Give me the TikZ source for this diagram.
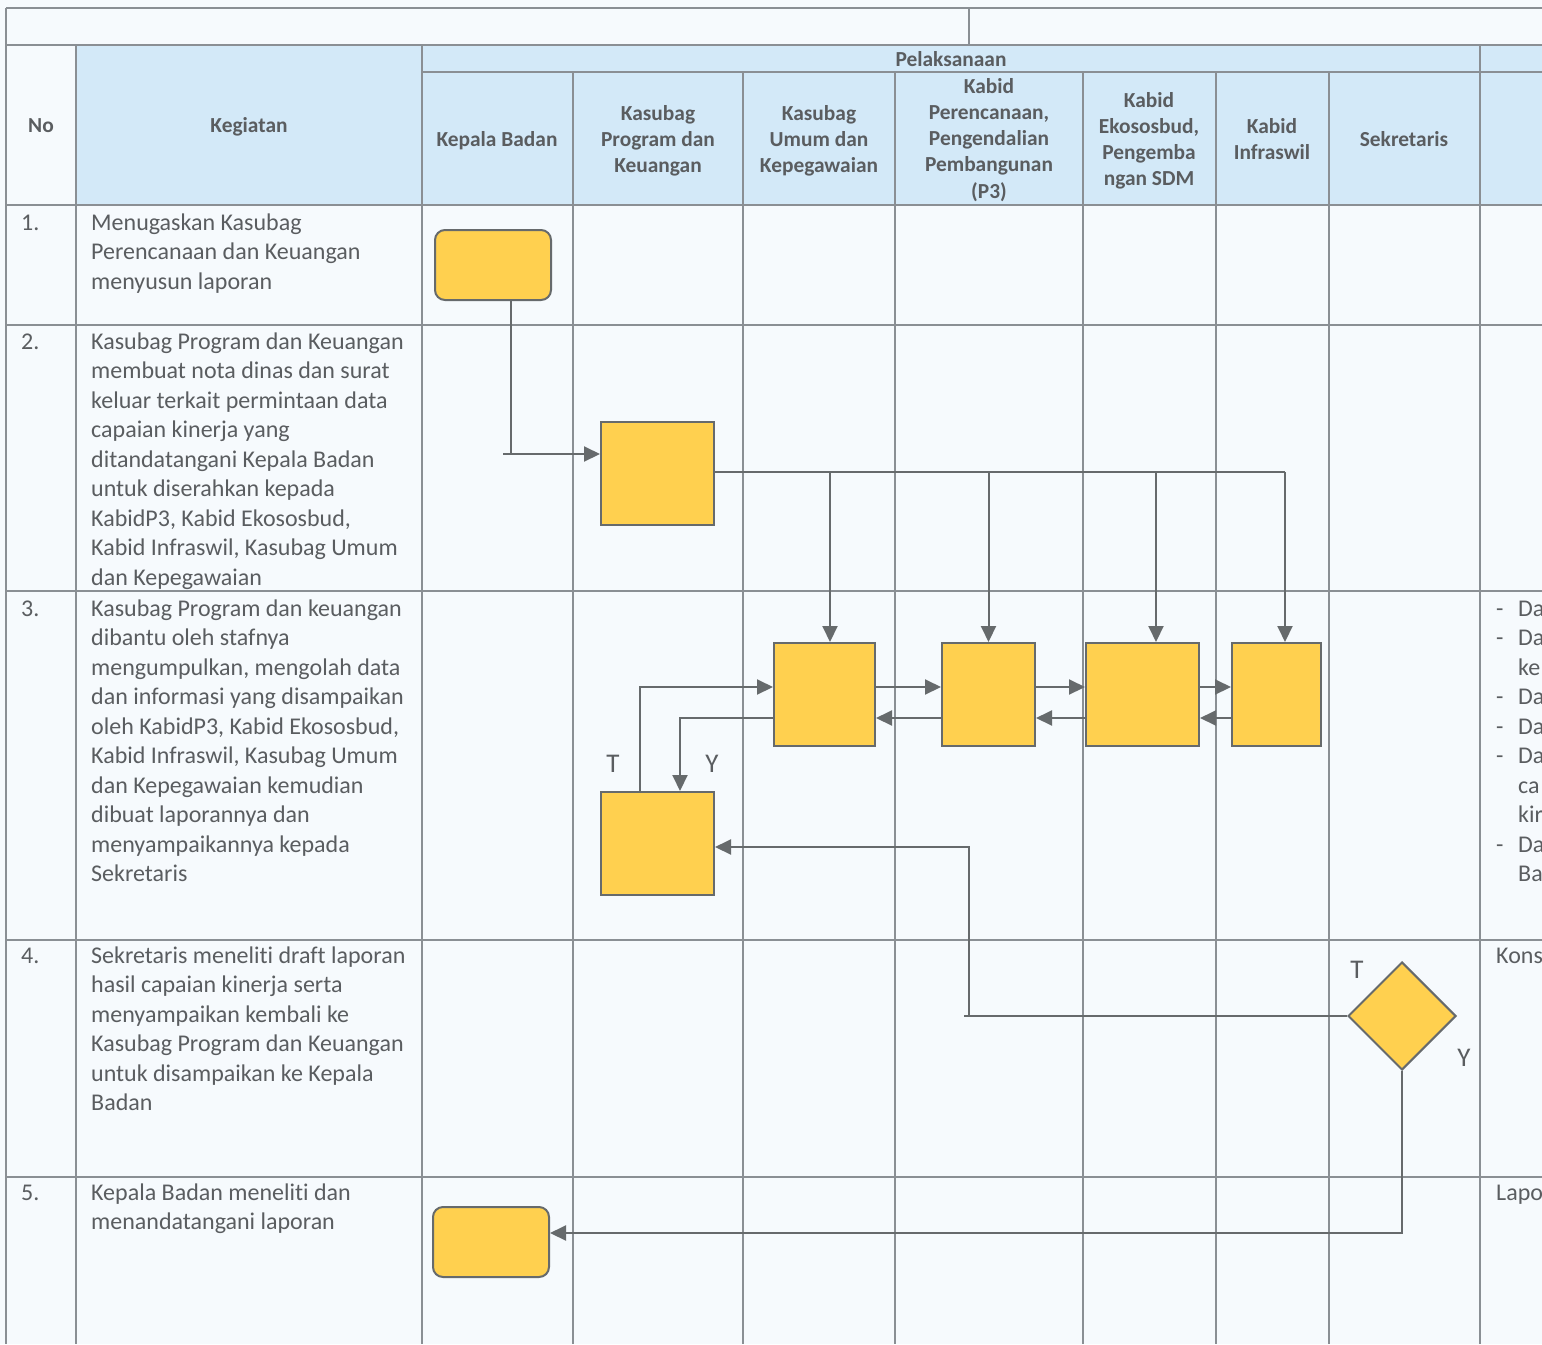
\documentclass[tikz,border=0pt]{standalone}
\usepackage{fontspec}
\setmainfont{Carlito}[Ligatures=NoCommon]
\usetikzlibrary{arrows.meta,shapes.geometric}
\definecolor{bgc}{HTML}{F6FAFD}
\definecolor{hdr}{HTML}{D3E9F8}
\definecolor{grid}{HTML}{8A8F94}
\definecolor{txt}{HTML}{5A5D60}
\definecolor{boxf}{HTML}{FFD04F}
\definecolor{boxd}{HTML}{666A6C}
\tikzset{
  gridline/.style={draw=grid, line width=1.3pt},
  task/.style={rectangle, draw=boxd, fill=boxf, line width=2pt, inner sep=0pt},
  termbox/.style={task, rounded corners=10pt, minimum width=116pt, minimum height=70pt},
  dec/.style={diamond, draw=boxd, fill=boxf, line width=2pt, inner sep=0pt, minimum width=108pt, minimum height=108pt},
  conn/.style={draw=boxd, line width=2pt},
  arr/.style={conn, -{Triangle[length=16pt,width=15pt]}},
  hd/.style={anchor=base, inner sep=0pt, text=txt, font=\fontsize{21.4}{26.3}\selectfont\bfseries},
  body/.style={anchor=base west, inner sep=0pt, text=txt, font=\fontsize{24}{29.5}\selectfont},
  lbl/.style={inner sep=0pt, text=txt, font=\fontsize{27}{30}\selectfont},
}
\newcommand{\ml}[1]{\begin{tabular}[t]{@{}l@{}}#1\end{tabular}}
\newcommand{\mc}[1]{\begin{tabular}[t]{@{}c@{}}#1\end{tabular}}
\begin{document}
\begin{tikzpicture}[x=1pt,y=-1pt]
\useasboundingbox (0,0) rectangle (1542,1344);
\fill[bgc] (0,0) rectangle (1542,1344);
% header fill
\fill[hdr] (76,45) rectangle (1542,205);
% grid
\draw[gridline] (6,8) -- (1542,8);
\draw[gridline] (6,45) -- (1542,45);
\draw[gridline] (422,72) -- (1542,72);
\foreach \yy in {205,325,591,940,1177} \draw[gridline] (6,\yy) -- (1542,\yy);
\draw[gridline] (6,8) -- (6,1344);
\draw[gridline] (969,8) -- (969,45);
\foreach \xx in {76,422,1480} \draw[gridline] (\xx,45) -- (\xx,1344);
\foreach \xx in {573,743,895,1083,1216,1329} \draw[gridline] (\xx,72) -- (\xx,1344);
% header texts
\node[hd] (hno) at (41,132) {No};
\node[hd] (hkeg) at (249,132) {Kegiatan};
\node[hd] (hpel) at (951,66) {Pelaksanaan};
\node[hd] (hkb) at (497,146) {Kepala Badan};
\node[hd] (hkpk) at (658,120) {\mc{Kasubag\\Program dan\\Keuangan}};
\node[hd] (hkuk) at (819,120) {\mc{Kasubag\\Umum dan\\Kepegawaian}};
\node[hd] (hp3) at (989,93) {\mc{Kabid\\Perencanaan,\\Pengendalian\\Pembangunan\\(P3)}};
\node[hd] (heko) at (1149,107) {\mc{Kabid\\Ekososbud,\\Pengemba\\ngan SDM}};
\node[hd] (hinf) at (1272,133) {\mc{Kabid\\Infraswil}};
\node[hd] (hsek) at (1404,146) {Sekretaris};
% numbers
\node[body] (n1) at (21,230) {1.};
\node[body] (n2) at (21,349) {2.};
\node[body] (n3) at (21,616) {3.};
\node[body] (n4) at (21,963) {4.};
\node[body] (n5) at (21,1200) {5.};
% activity texts
\node[body] (t1) at (91,230) {\ml{Menugaskan Kasubag\\Perencanaan dan Keuangan\\menyusun laporan}};
\node[body] (t2) at (91,349) {\ml{Kasubag Program dan Keuangan\\membuat nota dinas dan surat\\keluar terkait permintaan data\\capaian kinerja yang\\ditandatangani Kepala Badan\\untuk diserahkan kepada\\KabidP3, Kabid Ekososbud,\\Kabid Infraswil, Kasubag Umum\\dan Kepegawaian}};
\node[body] (t3) at (91,616) {\ml{Kasubag Program dan keuangan\\dibantu oleh stafnya\\mengumpulkan, mengolah data\\dan informasi yang disampaikan\\oleh KabidP3, Kabid Ekososbud,\\Kabid Infraswil, Kasubag Umum\\dan Kepegawaian kemudian\\dibuat laporannya dan\\menyampaikannya kepada\\Sekretaris}};
\node[body] (t4) at (91,963) {\ml{Sekretaris meneliti draft laporan\\hasil capaian kinerja serta\\menyampaikan kembali ke\\Kasubag Program dan Keuangan\\untuk disampaikan ke Kepala\\Badan}};
\node[body] (t5) at (91,1200) {\ml{Kepala Badan meneliti dan\\menandatangani laporan}};
% right column fragments
\node[body] (r3) at (1496,616) {\ml{-\hspace{14.5pt}Da\\-\hspace{14.5pt}Da\\\hspace{22pt}ke\\-\hspace{14.5pt}Da\\-\hspace{14.5pt}Da\\-\hspace{14.5pt}Da\\\hspace{22pt}ca\\\hspace{22pt}kir\\-\hspace{14.5pt}Da\\\hspace{22pt}Ba}};
\node[body] (r4) at (1496,963) {Kons};
\node[body] (r5) at (1496,1200) {Lapo};
% shapes
\node[termbox] (k1) at (493,265) {};
\node[task, minimum width=113pt, minimum height=103pt] (k2) at (657.5,473.5) {};
\node[task, minimum width=101pt, minimum height=103pt] (b1) at (824.5,694.5) {};
\node[task, minimum width=93pt, minimum height=103pt] (b2) at (988.5,694.5) {};
\node[task, minimum width=113pt, minimum height=103pt] (b3) at (1142.5,694.5) {};
\node[task, minimum width=89pt, minimum height=103pt] (b4) at (1276.5,694.5) {};
\node[task, minimum width=113pt, minimum height=103pt] (k3) at (657.5,843.5) {};
\node[dec] (d) at (1402,1016) {};
\node[termbox] (k5) at (491,1242) {};
% connectors
\coordinate (j1) at (511,454);
\coordinate (j1s) at (503,454);
\draw[conn] (k1.south -| j1) -- (j1);
\draw[arr] (j1s) -- (k2.west |- j1s);
\coordinate (fan) at (1285,472);
\draw[conn] (k2.east |- fan) -- (fan);
\draw[arr] ([xshift=5.5pt]b1.north |- fan) -- ([xshift=5.5pt]b1.north);
\draw[arr] (b2.north |- fan) -- (b2.north);
\draw[arr] ([xshift=13.5pt]b3.north |- fan) -- ([xshift=13.5pt]b3.north);
\draw[arr] (fan) -- ([xshift=8.5pt]b4.north);
\draw[arr] ([yshift=7.5pt]b1.east) -- ([yshift=7.5pt]b2.west);
\draw[arr] ([yshift=-23.5pt]b2.west) -- ([yshift=-23.5pt]b1.east);
\draw[arr] ([yshift=7.5pt]b2.east) -- ([yshift=7.5pt]b3.west);
\draw[arr] ([yshift=-23.5pt]b3.west) -- ([yshift=-23.5pt]b2.east);
\draw[arr] ([yshift=7.5pt]b3.east) -- ([yshift=7.5pt]b4.west);
\draw[arr] ([yshift=-23.5pt]b4.west) -- ([yshift=-23.5pt]b3.east);
\draw[arr] ([xshift=-17.5pt]k3.north) |- ([yshift=7.5pt]b1.west);
\draw[arr] ([yshift=-23.5pt]b1.west) -| ([xshift=22.5pt]k3.north);
\node[lbl] (lt1) at (613,764) {T};
\node[lbl] (ly1) at (712,764) {Y};
\coordinate (dl) at (969,1016);
\coordinate (dl2) at (964,1016);
\draw[conn] (d.west) -- (dl2);
\draw[arr] (dl) |- ([yshift=-3.5pt]k3.east);
\draw[arr] (d.south) |- ([yshift=9pt]k5.east);
\node[lbl] (lt2) at (1357,970) {T};
\node[lbl] (ly2) at (1464,1058) {Y};
\end{tikzpicture}
\end{document}
